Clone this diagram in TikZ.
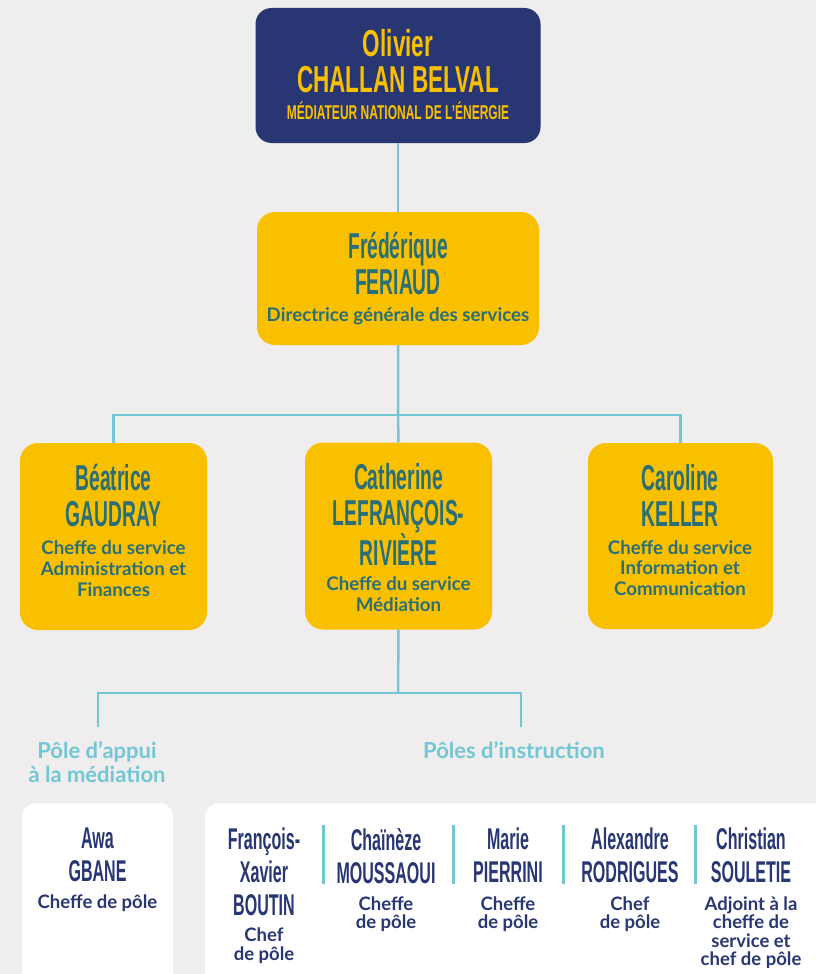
\documentclass[tikz,border=0pt]{standalone}
\usepackage{fontspec}
\setmainfont{Lato}
\newfontfamily\condfont{Liberation Sans}[FakeStretch=0.535]
\newfontfamily\widecond{Liberation Sans}[FakeStretch=0.6]

\definecolor{navy}{HTML}{283673}
\definecolor{gold}{HTML}{F9C000}
\definecolor{petrol}{HTML}{2A6F77}
\definecolor{sky}{HTML}{72C7D4}
\definecolor{paper}{HTML}{EFEDEE}

\newcommand\topnm{\fontsize{37.5}{36}\widecond\bfseries}
\newcommand\subnm{\fontsize{20}{22}\widecond\bfseries}
\newcommand\bignm{\fontsize{36}{36}\condfont\bfseries}
\newcommand\smallnm{\fontsize{30}{33}\condfont\bfseries}
\newcommand\bigrole{\fontsize{18.7}{20.8}\rmfamily\bfseries}
\newcommand\smallrole{\fontsize{18.5}{18.6}\rmfamily\bfseries}

\tikzset{
  topbox/.style={fill=navy, rounded corners=16pt, inner sep=0pt},
  ybox/.style={fill=gold, rounded corners=18pt, inner sep=0pt},
  wbox/.style={fill=white, rounded corners=14pt, inner sep=0pt},
  who/.style={anchor=north, align=flush center, inner sep=0pt, text width=#1},
  who/.default=185pt,
  link/.style={draw=sky, line width=2.5pt},
  polelabel/.style={text=sky, align=center, font=\fontsize{22}{24}\selectfont\bfseries},
}

\begin{document}
\begin{tikzpicture}[x=1pt,y=-1pt]
\useasboundingbox (0,0) rectangle (816,974);
\fill[paper] (0,0) rectangle (816,974);
\clip (0,0) rectangle (816,974);

% mediateur et DGS
\node[topbox, minimum width=285pt, minimum height=135pt] (mediateur) at (398,75.5) {};
\node[who=280pt, text=gold, font=\topnm] (mediateurtxt) at (398,29)
  {Olivier\\CHALLAN BELVAL\par\vspace{5.5pt}{\subnm MÉDIATEUR NATIONAL DE L’ÉNERGIE\par}};

\node[ybox, minimum width=282pt, minimum height=133pt] (dgs) at (398,278.5) {};
\node[who=300pt, text=petrol, font=\bignm] (dgstxt) at (398,232)
  {Frédérique\\FERIAUD\par\vspace{6.5pt}{\bigrole Directrice générale des services\par}};

% chefs de service
\node[ybox, minimum width=187pt, minimum height=187pt] (gaudray) at (113.5,536.5) {};
\node[who, text=petrol, font=\bignm] (gaudraytxt) at (113.5,464)
  {Béatrice\\GAUDRAY\par\vspace{7pt}{\bigrole Cheffe du service\\Administration et\\Finances\par}};

\node[ybox, minimum width=187pt, minimum height=187pt] (lefrancois) at (398.5,536) {};
\node[who, text=petrol, font=\bignm] (lefrancoistxt) at (398.5,463)
  {Catherine\\LEFRANÇOIS-\\RIVIÈRE\par\vspace{4.5pt}{\bigrole Cheffe du service\\Médiation\par}};

\node[ybox, minimum width=185pt, minimum height=186pt] (keller) at (680.5,536) {};
\node[who, text=petrol, font=\bignm] (kellertxt) at (680,464)
  {Caroline\\KELLER\par\vspace{7pt}{\bigrole Cheffe du service\\Information et\\Communication\par}};

% liens
\coordinate (fork1) at (398,415);
\draw[link] (mediateur.south) -- (dgs.north);
\draw[link] (dgs.south) -- (fork1) -- (lefrancois.north);
\draw[link] (gaudray.north) |- (fork1) -| (keller.north);

\coordinate (fork2) at (398,693);
\coordinate (appuiend) at (98,727);
\coordinate (instrend) at (521,727);
\draw[link] (lefrancois.south) -- (fork2);
\draw[link] (appuiend) |- (fork2) -| (instrend);

\node[polelabel] (appui) at (97,762) {Pôle d’appui\\à la médiation};
\node[polelabel] (instruction) at (514,750) {Pôles d’instruction};

% poles
\node[wbox, minimum width=151pt, minimum height=210pt] (gbanebox) at (97.5,908) {};
\node[who=150pt, text=navy, font=\smallnm] (gbane) at (97.5,828)
  {Awa\\GBANE\par\vspace{8pt}{\smallrole Cheffe de pôle\par}};

\node[wbox, minimum width=640pt, minimum height=210pt] (instrbox) at (525,908) {};
\foreach \sx in {323,453,563,695}
  \draw[sky, line width=3pt] (\sx,825) -- (\sx,884);

\node[who=120pt, text=navy, font=\smallnm] (boutin) at (264,828)
  {François-\\Xavier\\BOUTIN\par\vspace{7pt}{\smallrole Chef\\de pôle\par}};
\node[who=120pt, text=navy, font=\smallnm] (moussaoui) at (386,828)
  {Chaïnèze\\MOUSSAOUI\par\vspace{8.5pt}{\smallrole Cheffe\\de pôle\par}};
\node[who=110pt, text=navy, font=\smallnm] (pierrini) at (508,828)
  {Marie\\PIERRINI\par\vspace{8.5pt}{\smallrole Cheffe\\de pôle\par}};
\node[who=120pt, text=navy, font=\smallnm] (rodrigues) at (630,828)
  {Alexandre\\RODRIGUES\par\vspace{8.5pt}{\smallrole Chef\\de pôle\par}};
\node[who=120pt, text=navy, font=\smallnm] (souletie) at (751,828)
  {Christian\\SOULETIE\par\vspace{8.5pt}{\smallrole Adjoint à la\\cheffe de\\service et\\chef de pôle\par}};
\end{tikzpicture}
\end{document}
